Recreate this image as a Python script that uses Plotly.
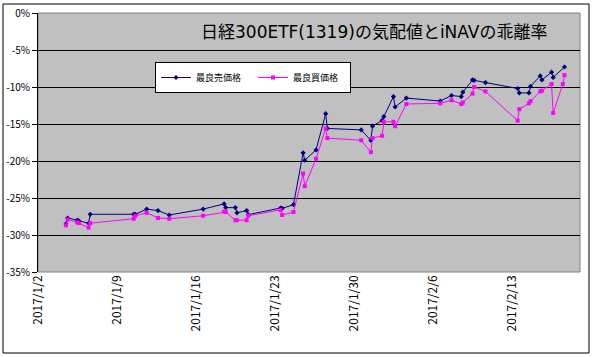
import plotly.graph_objects as go

# time stamps (AM = 11:30 session close, PM = 15:00 close)
times = [
    "2017-01-04 11:30", "2017-01-04 15:00", "2017-01-05 11:30", "2017-01-05 15:00",
    "2017-01-06 11:30", "2017-01-06 15:00", "2017-01-10 11:30", "2017-01-10 15:00",
    "2017-01-11 15:00", "2017-01-12 15:00", "2017-01-13 15:00", "2017-01-16 15:00",
    "2017-01-18 11:30", "2017-01-18 15:00", "2017-01-19 11:30", "2017-01-19 15:00",
    "2017-01-20 11:30", "2017-01-20 15:00", "2017-01-23 11:30", "2017-01-23 15:00",
    "2017-01-24 15:00", "2017-01-25 11:30", "2017-01-25 15:00", "2017-01-26 15:00",
    "2017-01-27 11:30", "2017-01-27 15:00", "2017-01-30 15:00", "2017-01-31 11:30",
    "2017-01-31 15:00", "2017-02-01 11:30", "2017-02-01 15:00", "2017-02-02 11:30",
    "2017-02-02 15:00", "2017-02-03 15:00", "2017-02-06 15:00", "2017-02-07 15:00",
    "2017-02-08 11:30", "2017-02-08 15:00", "2017-02-09 11:30", "2017-02-09 15:00",
    "2017-02-10 15:00", "2017-02-13 11:30", "2017-02-13 15:00", "2017-02-14 11:30",
    "2017-02-14 15:00", "2017-02-15 11:30", "2017-02-15 15:00", "2017-02-16 11:30",
    "2017-02-16 15:00", "2017-02-17 11:30", "2017-02-17 15:00",
]

# 最良売価格 (best ask) deviation, %
ask = [
    -28.5, -27.7, -28.0, -28.1, -28.4, -27.2, -27.2, -27.2,
    -26.5, -26.7, -27.3, -26.5,
    -25.8, -26.3, -26.3, -27.0, -26.7, -27.25, -26.35, -26.4,
    -25.9, -18.9, -19.9, -18.5, -13.6, -15.6, -15.8, -17.2,
    -15.3, -14.5, -14.0, -11.3, -12.7, -11.5, -11.9, -11.15,
    -11.3, -10.7, -9.05, -9.1, -9.4, -10.2, -10.8, -10.8,
    -9.9, -8.5, -9.05, -8.0, -8.7, None, -7.3,
]

# 最良買価格 (best bid) deviation, %
bid = [
    -28.7, -27.9, -28.3, -28.4, -29.0, -28.4, -27.8, -27.4,
    -27.0, -27.7, -27.8, -27.4,
    -26.85, -26.9, -28.0, -28.0, -28.0, -27.4, -26.6, -27.3,
    -26.9, -21.7, -23.4, -19.7, -15.6, -16.9, -17.2, -18.8,
    -16.9, -16.6, -14.7, -14.7, -15.3, -12.3, -12.2, -11.8,
    -12.3, -12.1, -10.9, -10.0, -10.6, -14.55, -13.0, -12.2,
    -11.9, -10.6, -10.5, -9.6, -13.5, -9.6, -8.4,
]

series_names = ["最良売価格", "最良買価格"]
title_text = "日経300ETF(1319)の気配値とiNAVの乖離率"

x_tick_vals = ["2017-01-02", "2017-01-09", "2017-01-16", "2017-01-23",
               "2017-01-30", "2017-02-06", "2017-02-13"]
x_tick_text = ["2017/1/2", "2017/1/9", "2017/1/16", "2017/1/23",
               "2017/1/30", "2017/2/6", "2017/2/13"]
y_tick_vals = [0, -5, -10, -15, -20, -25, -30, -35]
y_tick_text = ["0%", "-5%", "-10%", "-15%", "-20%", "-25%", "-30%", "-35%"]

FONT = "Noto Sans CJK JP"
TITLE_FONT = "DejaVu Sans, Noto Sans CJK JP"

fig = go.Figure()
fig.add_trace(go.Scatter(
    x=times, y=ask, name=series_names[0], mode="lines+markers",
    connectgaps=True,
    line=dict(color="#000080", width=1),
    marker=dict(symbol="diamond", size=4, color="#000080"),
))
fig.add_trace(go.Scatter(
    x=times, y=bid, name=series_names[1], mode="lines+markers",
    connectgaps=True,
    line=dict(color="#FF00FF", width=1),
    marker=dict(symbol="square", size=4, color="#FF00FF"),
))

W, H = 594, 357
L, R, T, B = 38, 14, 13, 85
pw, ph = W - L - R, H - T - B

def px(xp):
    return (xp - L) / pw

def py(yp):
    return (H - B - yp) / ph

fig.update_layout(
    width=W, height=H,
    margin=dict(l=L, r=R, t=T, b=B, autoexpand=False),
    paper_bgcolor="white",
    plot_bgcolor="#C0C0C0",
    font=dict(family=FONT, color="black", size=10),
    showlegend=True,
    legend=dict(
        orientation="h",
        x=px(155), y=py(62), xanchor="left", yanchor="top",
        bgcolor="white", bordercolor="black", borderwidth=1,
        font=dict(family=FONT, size=9, color="black"),
        itemwidth=30, entrywidth=52, entrywidthmode="pixels",
        tracegroupgap=0,
    ),
    annotations=[dict(
        text=title_text, xref="paper", yref="paper",
        x=px(374), y=py(32), xanchor="center", yanchor="middle",
        showarrow=False, font=dict(family=TITLE_FONT, size=17, color="black"),
    )],
    shapes=[
        dict(type="rect", xref="paper", yref="paper",
             x0=0, x1=1, y0=0, y1=1, line=dict(color="#808080", width=1),
             layer="below"),
        dict(type="rect", xref="paper", yref="paper",
             x0=px(3), x1=px(589), y0=py(353), y1=py(4),
             line=dict(color="black", width=1)),
    ],
)

fig.update_xaxes(
    type="date",
    range=["2017-01-02", "2017-02-19"],
    tickmode="array", tickvals=x_tick_vals, ticktext=x_tick_text,
    tickangle=-90, showgrid=False, zeroline=False,
    showline=False, ticks="", automargin=False,
    tickfont=dict(family=FONT, size=12, color="black"),
)
fig.update_yaxes(
    range=[-35, 0], automargin=False,
    tickmode="array", tickvals=y_tick_vals, ticktext=y_tick_text,
    showgrid=True, gridcolor="black", gridwidth=1,
    zeroline=False, showline=True, linecolor="black", linewidth=1,
    ticks="outside", ticklen=5, tickcolor="black",
    tickfont=dict(family=FONT, size=10, color="black"),
)

fig.write_html(
    "out.html",
    config={"displayModeBar": False},
    post_script="document.body.style.margin='0';document.body.style.overflow='hidden';",
)
